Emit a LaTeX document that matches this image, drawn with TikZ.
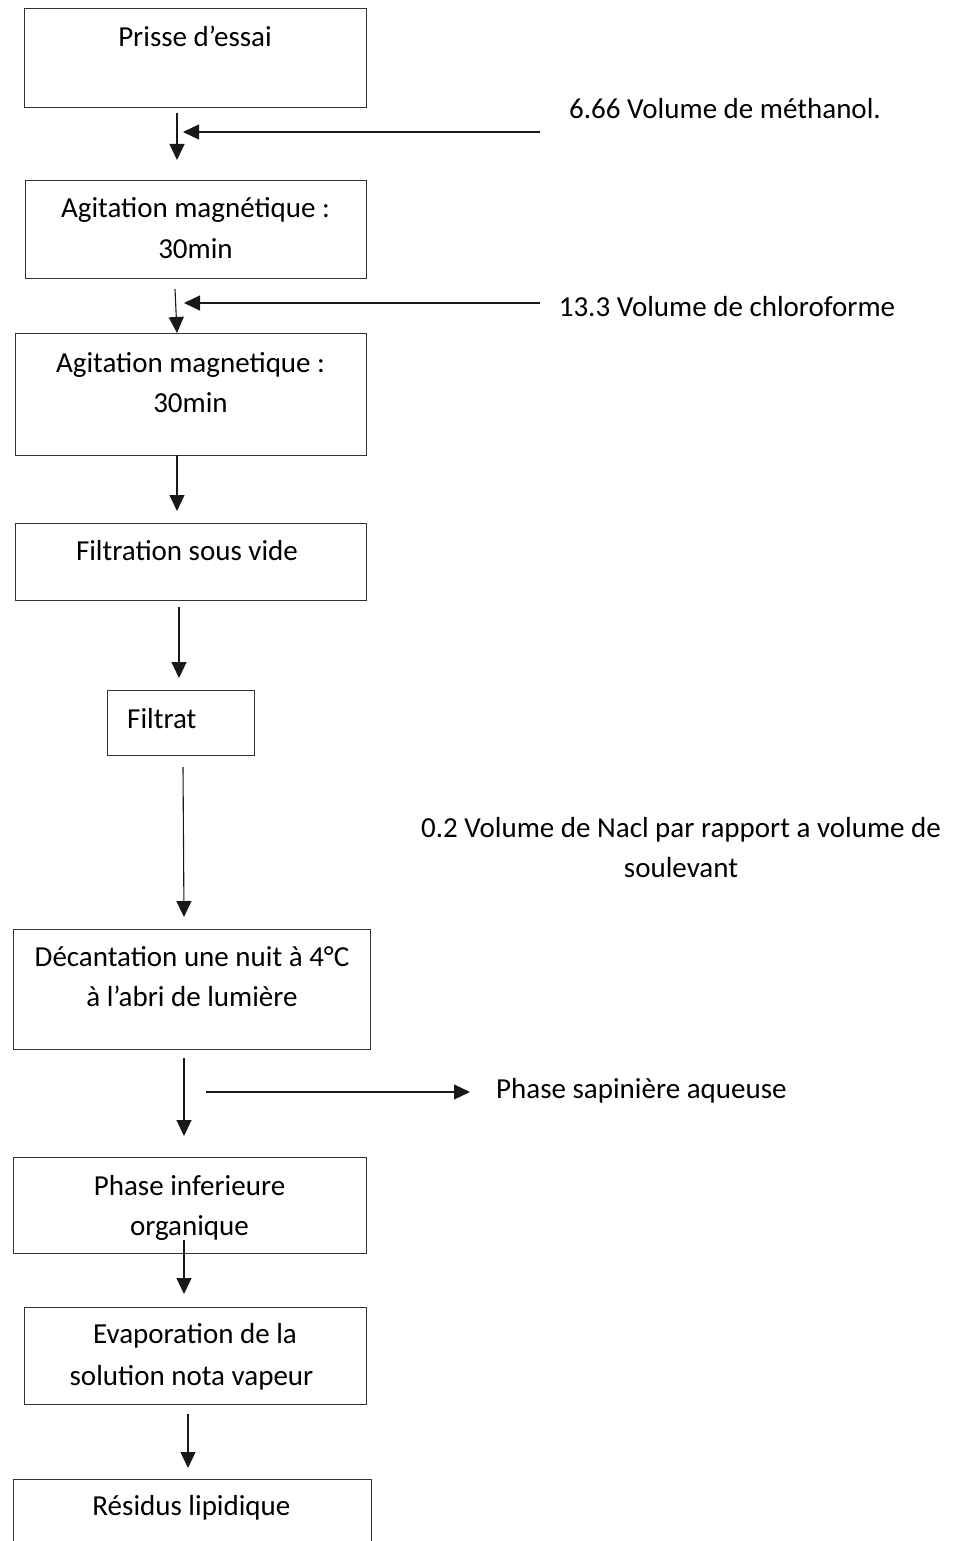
\documentclass[tikz,border=0pt]{standalone}
\usepackage{fontspec}
\setmainfont{Carlito}
\usetikzlibrary{arrows.meta}
\tikzset{
  box/.style={draw=black!80, line width=1.3pt, inner sep=0pt, anchor=north west},
  txt/.style={inner sep=0pt, anchor=base, text=black, font=\fontsize{29}{35}\selectfont},
  txtw/.style={txt, anchor=base west},
  arr/.style={draw=black!90, line width=1.1pt, -{Triangle[length=16pt,width=15pt]}}
}
\begin{document}
\begin{tikzpicture}[x=1pt,y=-1pt]
\useasboundingbox (0,0) rectangle (965,1541);
\fill[white] (0,0) rectangle (965,1541);
\clip (0,0) rectangle (965,1541);

% boxes
\node[box, minimum width=342pt, minimum height=99pt] (b1) at (24,8) {};
\node[box, minimum width=341pt, minimum height=98pt] (b2) at (25,180) {};
\node[box, minimum width=351pt, minimum height=122pt] (b3) at (15,333) {};
\node[box, minimum width=351pt, minimum height=77pt] (b4) at (15,523) {};
\node[box, minimum width=147pt, minimum height=65pt] (b5) at (107,690) {};
\node[box, minimum width=357pt, minimum height=120pt] (b6) at (13,929) {};
\node[box, minimum width=353pt, minimum height=96pt] (b7) at (13,1157) {};
\node[box, minimum width=342pt, minimum height=97pt] (b8) at (24,1307) {};
\node[box, minimum width=358pt, minimum height=100pt] (b9) at (13,1479) {};

% box texts
\node[txt] (t1) at (195,47) {Prisse d’essai};
\node[txt] (t2a) at (195.5,218) {Agitation magnétique :};
\node[txt] (t2b) at (195.5,258) {30min};
\node[txt] (t3a) at (190.5,372) {Agitation magnetique :};
\node[txt] (t3b) at (190.5,412) {30min};
\node[txt] (t4) at (187,560) {Filtration sous vide};
\node[txtw] (t5) at (127,728) {Filtrat};
\node[txt] (t6a) at (192,966) {Décantation une nuit à 4°C};
\node[txt] (t6b) at (192,1006) {à l’abri de lumière};
\node[txt] (t7a) at (189.5,1195) {Phase inferieure};
\node[txt] (t7b) at (189.5,1235) {organique};
\node[txt] (t8a) at (195,1343) {Evaporation de la};
\node[txt] (t8b) at (191.5,1385) {solution nota vapeur};
\node[txt] (t9) at (191.5,1515) {Résidus lipidique};

% side labels
\node[txt] (l1) at (725,119) {6.66 Volume de méthanol.};
\node[txt] (l2) at (727,316) {13.3 Volume de chloroforme};
\node[txt] (l3a) at (681,837) {0.2 Volume de Nacl par rapport a volume de};
\node[txt] (l3b) at (681,877) {soulevant};
\node[txtw] (l4) at (496,1098) {Phase sapinière aqueuse};

% connector end points
\coordinate (a1s) at (177,113); \coordinate (a1e) at (177,160);
\coordinate (h1s) at (540,132); \coordinate (h1e) at (183,132);
\coordinate (a2s) at (175,289); \coordinate (a2e) at (177,333);
\coordinate (h2s) at (540,303); \coordinate (h2e) at (184,303);
\coordinate (a3s) at (177,455); \coordinate (a3e) at (177,511);
\coordinate (a4s) at (179,607); \coordinate (a4e) at (179,678);
\coordinate (a5s) at (183,767); \coordinate (a5e) at (184,917);
\coordinate (a6s) at (184,1058); \coordinate (a6e) at (184,1136);
\coordinate (h6s) at (206,1092); \coordinate (h6e) at (470,1092);
\coordinate (a7s) at (184,1240); \coordinate (a7e) at (184,1294);
\coordinate (a8s) at (188,1414); \coordinate (a8e) at (188,1468);

\draw[arr] (a1s) -- (a1e);
\draw[arr] (h1s) -- (h1e);
\draw[arr] (a2s) -- (a2e);
\draw[arr] (h2s) -- (h2e);
\draw[arr] (a3s) -- (a3e);
\draw[arr] (a4s) -- (a4e);
\draw[arr] (a5s) -- (a5e);
\draw[arr] (a6s) -- (a6e);
\draw[arr] (h6s) -- (h6e);
\draw[arr] (a7s) -- (a7e);
\draw[arr] (a8s) -- (a8e);
\end{tikzpicture}
\end{document}
